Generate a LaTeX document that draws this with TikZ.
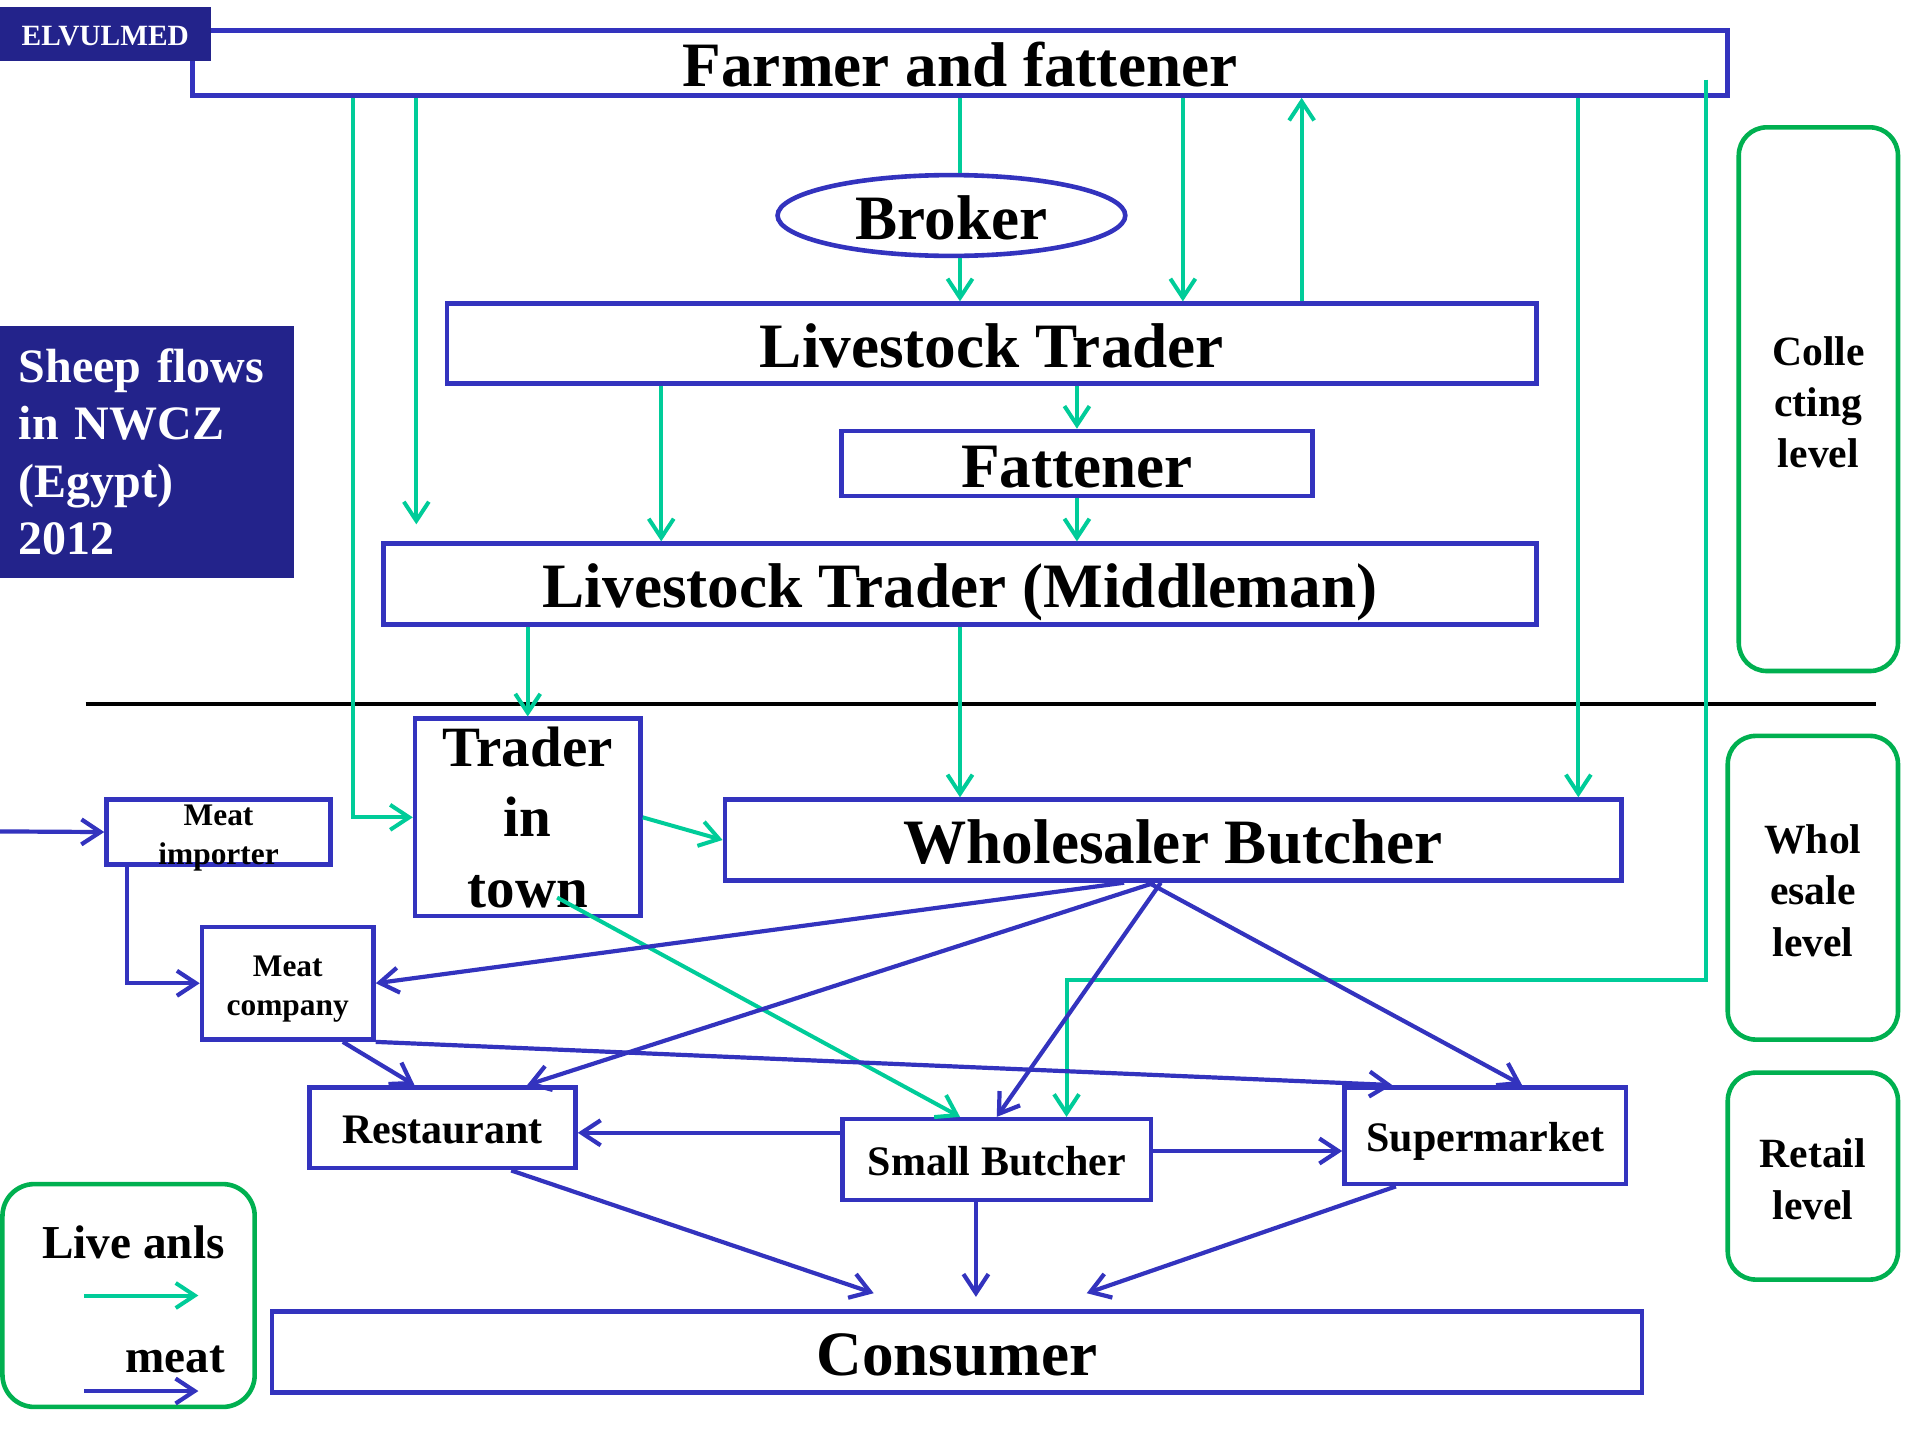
\documentclass[tikz,border=0pt]{standalone}
\usepackage{fontspec}
\setmainfont{Liberation Serif}
\usetikzlibrary{arrows.meta,shapes.geometric,calc}
\definecolor{bl}{RGB}{51,51,190}
\definecolor{gr}{RGB}{0,204,153}
\definecolor{lv}{RGB}{0,176,80}
\definecolor{nv}{RGB}{35,35,139}
\begin{document}
\begin{tikzpicture}[x=0.6122pt,y=-0.6122pt,
  bb/.style n args={4}{minimum width={(#3-#1)*0.6122pt}, minimum height={(#4-#2)*0.6122pt}, at={({(#1+#3)/2},{(#2+#4)/2})}},
  box/.style={draw=bl, line width=2.3pt, inner sep=0pt, align=center},
  fbig/.style={font=\fontsize{31.6}{38}\selectfont\bfseries, text height=23.7pt, text depth=0pt},
  fmid/.style={font=\fontsize{21}{26}\selectfont\bfseries, text height=15.75pt, text depth=0pt},
  fsml/.style={font=\fontsize{15.7}{19.3}\selectfont\bfseries},
  lvl/.style={draw=lv, line width=2.3pt, rounded corners=14pt, inner sep=0pt, align=center},
  lvltxt/.style={font=\fontsize{20.8}{25.7}\selectfont\bfseries, align=center, inner sep=0pt, yshift=-1.5pt},
  ga/.style={draw=gr, line width=2pt, -{Straight Barb[length=9.5pt,width=12.5pt]}},
  gl/.style={draw=gr, line width=2pt},
  ba/.style={draw=bl, line width=2.1pt, -{Straight Barb[length=9.5pt,width=12.5pt]}}
]
\useasboundingbox (0,0) rectangle (1568,1176);

% boxes
\node[box, fbig, bb={157}{25}{1411}{78}] (farmer) {Farmer and fattener};
\node[draw=bl, line width=2.3pt, ellipse, inner sep=0pt, fbig, minimum width={284*0.6122pt}, minimum height={66*0.6122pt}] (broker) at (777,176) {Broker};
\node[box, fbig, bb={365}{248}{1255}{313}] (lt) {Livestock Trader};
\node[box, fbig, bb={687}{352}{1072}{405}] (fat) {Fattener};
\node[box, fbig, bb={313}{444}{1255}{510}] (mid) {Livestock Trader (Middleman)};
\node[box, font=\fontsize{28.5}{35.2}\selectfont\bfseries, bb={339}{587}{523}{748}] (tit) {Trader\\in\\town};
\node[box, bb={87}{653}{270}{706}, label={[fsml, align=center, inner sep=0pt, yshift=-3pt]center:Meat\\importer}] (mi) {};
\node[box, bb={165}{757}{305}{849}, label={[font=\fontsize{15.7}{19.6}\selectfont\bfseries, align=center, inner sep=0pt, yshift=-3pt]center:Meat\\company}] (mc) {};
\node[box, fbig, bb={592}{653}{1324}{719}] (wb) {Wholesaler Butcher};
\node[box, fmid, bb={253}{888}{470}{954}] (rest) {Restaurant};
\node[box, fmid, bb={688}{914}{940}{980}] (sb) {Small Butcher};
\node[box, fmid, bb={1098}{888}{1328}{967}] (sm) {Supermarket};
\node[box, fbig, bb={222}{1071}{1341}{1137}] (con) {Consumer};

% title badges
\node[fill=nv, inner sep=0pt, text height=11pt, text depth=0pt, text=white, font=\fontsize{14.7}{17}\selectfont\bfseries, bb={0}{6}{172}{50}] (elv) {ELVULMED};
\node[fill=nv, inner xsep=9.2pt, inner ysep=0pt, text=white, text width=128pt, align=left, font=\fontsize{24}{28.8}\selectfont\bfseries, bb={0}{266}{240}{472}] (sheep) {Sheep flows\\in NWCZ\\(Egypt)\\2012};

% levels
\node[lvl, bb={1420}{104}{1550}{548}, label={[lvltxt]center:Colle\\cting\\level}] (coll) {};
\node[lvl, bb={1411}{601}{1550}{849}, label={[lvltxt]center:Whol\\esale\\level}] (whol) {};
\node[lvl, bb={1411}{876}{1550}{1045}, label={[lvltxt]center:Retail\\level}] (ret) {};

% legend
\node[draw=lv, line width=2.3pt, rounded corners=16pt, inner sep=0pt, bb={2}{967}{208}{1149}] (legend) {};
\node[anchor=base, inner sep=0pt, font=\fontsize{23.6}{28}\selectfont\bfseries] (lglive) at (109,1028) {Live anls};
\node[anchor=base east, inner sep=0pt, font=\fontsize{23.6}{28}\selectfont\bfseries] (lgmeat) at (184,1121) {meat};
\coordinate (lg1a) at (69,1058); \coordinate (lg1b) at (162,1058);
\coordinate (lg2a) at (69,1136); \coordinate (lg2b) at (162,1136);
\draw[ga] (lg1a) -- (lg1b);
\draw[ba] (lg2a) -- (lg2b);

% divider
\coordinate (dl) at (70,575); \coordinate (dr) at (1532,575);
\draw[line width=1.7pt] (dl) -- (dr);

% columns
\coordinate (x288) at (288,0);
\coordinate (x340) at (340,0);
\coordinate (x784) at (784,0);
\coordinate (x966) at (966,0);
\coordinate (x1063) at (1063,0);
\coordinate (x1289) at (1289,0);
\coordinate (x871) at (871,0);
\coordinate (x540) at (540,0);
\coordinate (x104) at (104,0);

% live animal flows
\draw[ga] (farmer.south -| x288) |- (tit.west);
\draw[ga, shorten >=8.5pt] (farmer.south -| x340) -- (mid.north -| x340);
\draw[gl] (farmer.south -| x784) -- (broker.north -| x784);
\draw[ga] (broker.south -| x784) -- (lt.north -| x784);
\draw[ga] (farmer.south -| x966) -- (lt.north -| x966);
\draw[ga] (lt.north -| x1063) -- (farmer.south -| x1063);
\draw[ga] (farmer.south -| x1289) -- (wb.north -| x1289);
\coordinate (g7s) at (1393,65); \coordinate (g7k) at (1393,800);
\draw[ga] (g7s) -- (g7k) -| (sb.north -| x871);
\draw[ga] (lt.south -| x540) -- (mid.north -| x540);
\draw[ga] (lt.south -| fat.north) -- (fat.north);
\draw[ga] (fat.south) -- (mid.north -| fat.south);
\draw[ga] (mid.south -| tit.north) -- (tit.north);
\draw[ga] (mid.south -| x784) -- (wb.north -| x784);
\draw[ga] (tit.east) -- (wb.west);
\coordinate (g14s) at (455,733);
\draw[ga] (g14s) -- (sb.north -| x784);

% meat flows
\coordinate (b1s) at (0,679);
\draw[ba] (b1s) -- (mi.west);
\draw[ba] (mi.south -| x104) |- (mc.west);
\draw[ba] ($(wb.south)+(-40,0)$) -- (mc.east);
\draw[ba] ($(wb.south)+(-15,0)$) -- ($(rest.north)+(69,0)$);
\draw[ba] ($(wb.south)+(-10,0)$) -- (sb.north);
\draw[ba] ($(wb.south)+(-20,0)$) -- ($(sm.north)+(30,0)$);
\draw[ba] ($(mc.south)+(45,0)$) -- ($(rest.north)+(-23,0)$);
\draw[ba] (mc.south east) -- ($(sm.north)+(-76,0)$);
\coordinate (b9s) at ($(sb.north west)+(0,13)$);
\draw[ba] (b9s) -- (b9s -| rest.east);
\coordinate (b10s) at ($(sb.east)+(0,-7)$);
\draw[ba] (b10s) -- (b10s -| sm.west);
\draw[ba] ($(rest.south)+(56,0)$) -- ($(con.north)+(-68,-13)$);
\coordinate (b12s) at ($(sb.south)+(-17,0)$);
\draw[ba] (b12s) -- ($(b12s |- con.north)+(0,-10)$);
\draw[ba] ($(sm.south)+(-73,0)$) -- ($(con.north)+(106,-13)$);
\end{tikzpicture}
\end{document}
